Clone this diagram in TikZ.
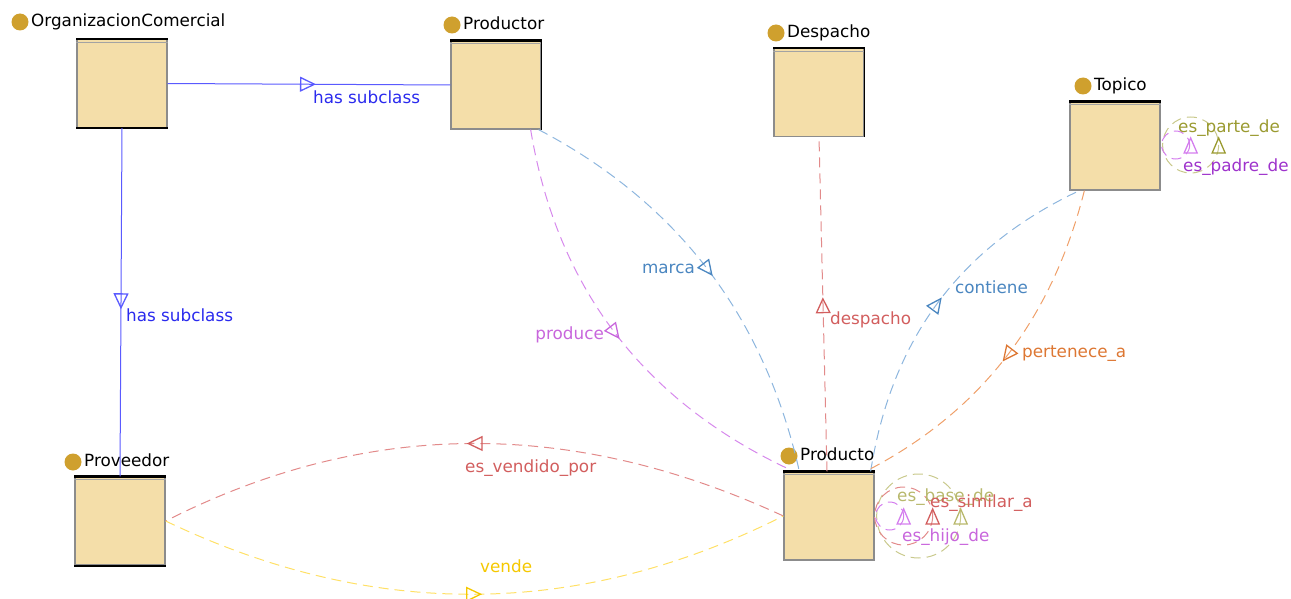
\documentclass[tikz,border=0pt]{standalone}
\usepackage{fontspec}
\setmainfont{DejaVu Sans}
\usetikzlibrary{arrows.meta,decorations.markings,calc}

\definecolor{boxfill}{HTML}{F4DEA9}
\definecolor{boxedge}{HTML}{8C8C8C}
\definecolor{dotc}{HTML}{CFA02E}
\definecolor{subline}{HTML}{5A5AFF}
\definecolor{sublabel}{HTML}{2A2AEE}
\definecolor{prodline}{HTML}{D688EC}
\definecolor{prodlabel}{HTML}{C866DC}
\definecolor{blueline}{HTML}{8DB6DE}
\definecolor{bluelabel}{HTML}{4A86C0}
\definecolor{redline}{HTML}{E28A8A}
\definecolor{redlabel}{HTML}{D25E5E}
\definecolor{orgline}{HTML}{EFA06A}
\definecolor{orglabel}{HTML}{DD7733}
\definecolor{yelline}{HTML}{FFE066}
\definecolor{yellabel}{HTML}{F5C800}
\definecolor{oliveline}{HTML}{C9C98C}
\definecolor{olivelabel}{HTML}{9A9A30}
\definecolor{olivelight}{HTML}{B8B86C}
\definecolor{pinkline}{HTML}{D47EEE}
\definecolor{purplelabel}{HTML}{9E33CC}

\tikzset{
  cls/.style={draw=boxedge, fill=boxfill, line width=1.3pt,
    minimum width=90pt, minimum height=88pt, inner sep=0pt},
  topbar/.style={black, line width=2.4pt},
  headline/.style={draw=boxedge!80, line width=0.8pt},
  dot/.style={circle, fill=dotc, minimum size=17pt, inner sep=0pt},
  lbl/.style={inner sep=0pt, text height=12.5pt, text depth=3.6pt},
  title/.style={lbl, anchor=west, text=black},
  subrel/.style={draw=subline, line width=1pt},
  rel/.style={line width=1pt, dash pattern=on 10pt off 6pt},
  midarrow/.style={postaction={decorate},
    decoration={markings,
      mark=at position 0.5 with {\arrow[xshift=7pt]{Triangle[open,length=16pt,width=15pt,line width=1.3pt,color=#1]}}}},
  uptri/.pic={\draw[solid, line width=1.3pt] (0,-8) -- (6.5,7) -- (-6.5,7) -- cycle;},
  loopc/.style={line width=1pt, dash pattern=on 10pt off 6pt},
}

\begin{document}
\begin{tikzpicture}[x=1pt, y=-1pt, font=\fontsize{16.8}{20}\selectfont]
\useasboundingbox (0,0) rectangle (1291,599);

% classes
\node[cls] (oc)        at (122,83.5) {};
\node[cls] (productor) at (496,85)   {};
\node[cls] (despacho)  at (819,92.5) {};
\node[cls] (topico)    at (1115,146) {};
\node[cls] (proveedor) at (120,521)  {};
\node[cls] (producto)  at (829,516)  {};

\foreach \n in {oc,productor,despacho,topico,proveedor,producto}{
  \draw[headline] ([yshift=-3.5pt]\n.north west) -- ([yshift=-3.5pt]\n.north east);
  \draw[topbar] (\n.north west) -- (\n.north east);
}
\draw[topbar, line width=1.8pt] (oc.south west) -- (oc.south east);
\draw[topbar, line width=1.8pt] (proveedor.south west) -- (proveedor.south east);
\draw[black, line width=1.6pt] (productor.north east) -- (productor.south east);
\draw[black, line width=1.6pt] (despacho.north east) -- (despacho.south east);

% class titles
\node[dot] (ocdot) at (20,22) {};
\node[title] (octitle) at (31,22) {OrganizacionComercial};
\node[dot] (productordot) at (452,25) {};
\node[title] (productortitle) at (463,25) {Productor};
\node[dot] (despachodot) at (776,33) {};
\node[title] (despachotitle) at (787,33) {Despacho};
\node[dot] (topicodot) at (1083,86) {};
\node[title] (topicotitle) at (1094,86) {Topico};
\node[dot] (proveedordot) at (73,462) {};
\node[title] (proveedortitle) at (84,462) {Proveedor};
\node[dot] (productodot) at (789,456) {};
\node[title] (productotitle) at (800,456) {Producto};

% subclass links
\draw[subrel, midarrow=subline] (oc.east) -- (productor.west);
\draw[subrel, midarrow=subline] (oc.south) -- (proveedor.north);
\node[lbl, anchor=west, text=sublabel] (sub1) at (313,99) {has subclass};
\node[lbl, anchor=west, text=sublabel] (sub2) at (126,317) {has subclass};

% object properties
\coordinate (pdA) at ($(productor.south east)+(-11,0)$);
\coordinate (pdB) at ($(productor.south east)+(-3,0)$);
\coordinate (ptA) at ($(producto.north west)+(6,-2)$);
\coordinate (ptB) at ($(producto.north west)+(16,0)$);
\coordinate (ptC) at ($(producto.north)+(-2,0)$);
\coordinate (ptD) at ($(producto.north east)+(-4,0)$);
\coordinate (ptE) at ($(producto.north east)+(-9,0)$);
\coordinate (tpA) at ($(topico.south west)+(10,0)$);
\coordinate (tpB) at ($(topico.south west)+(15,0)$);

\draw[rel, prodline, midarrow=prodlabel] (pdA) .. controls +(26,157) and +(-147,-69) .. (ptA);
\node[lbl, anchor=east, text=prodlabel] (produceL) at (604,335) {produce};

\draw[rel, blueline, midarrow=bluelabel] (pdB) .. controls +(139,73) and +(-35,-155) .. (ptB);
\node[lbl, anchor=east, text=bluelabel] (marcaL) at (695,269) {marca};

\draw[rel, redline, midarrow=redlabel] (ptC) -- (despacho.south);
\node[lbl, anchor=west, text=redlabel] (despachoL) at (830,320) {despacho};

\draw[rel, blueline, midarrow=bluelabel] (ptD) .. controls +(21,-133) and +(-119,56) .. (tpA);
\node[lbl, anchor=west, text=bluelabel] (contieneL) at (955,289) {contiene};

\draw[rel, orgline, midarrow=orglabel] (tpB) .. controls +(-33,131) and +(113,-58) .. (ptE);
\node[lbl, anchor=west, text=orglabel] (perteneceL) at (1022,353) {pertenece\_a};

\draw[rel, redline, midarrow=redlabel] (producto.west) .. controls +(-212,-98) and +(201,-102) .. (proveedor.east);
\node[lbl, anchor=west, text=redlabel] (vendidoL) at (465,468) {es\_vendido\_por};

\draw[rel, yelline, midarrow=yellabel] (proveedor.east) .. controls +(207,99) and +(-205,103) .. (producto.west);
\node[lbl, anchor=west, text=yellabel] (vendeL) at (480,568) {vende};

% reflexive properties on Topico
\draw[loopc, oliveline] ($(topico.east)+(30,-1)$) circle[radius=28];
\draw[loopc, pinkline] ($(topico.east)+(15,-1)$) circle[radius=14];
\path ($(topico.east)+(30,0)$) pic[color=pinkline]{uptri};
\path ($(topico.east)+(58,0)$) pic[color=olivelabel]{uptri};
\node[lbl, anchor=west, text=olivelabel] (parteL) at (1178,128) {es\_parte\_de};
\node[lbl, anchor=west, text=purplelabel] (padreL) at (1183,167) {es\_padre\_de};

% reflexive properties on Producto
\draw[loopc, oliveline] ($(producto.east)+(44,0)$) circle[radius=42];
\draw[loopc, redline] ($(producto.east)+(29,0)$) circle[radius=29];
\draw[loopc, pinkline] ($(producto.east)+(15,0)$) circle[radius=14];
\path ($(producto.east)+(29,1)$) pic[color=pinkline]{uptri};
\path ($(producto.east)+(58,1)$) pic[color=redlabel]{uptri};
\path ($(producto.east)+(86,1)$) pic[color=olivelight]{uptri};
\node[lbl, anchor=west, text=olivelight] (baseL) at (897,497) {es\_base\_de};
\node[lbl, anchor=west, text=redlabel] (similarL) at (930,503) {es\_similar\_a};
\node[lbl, anchor=west, text=prodlabel] (hijoL) at (902,537) {es\_hijo\_de};
\end{tikzpicture}
\end{document}
